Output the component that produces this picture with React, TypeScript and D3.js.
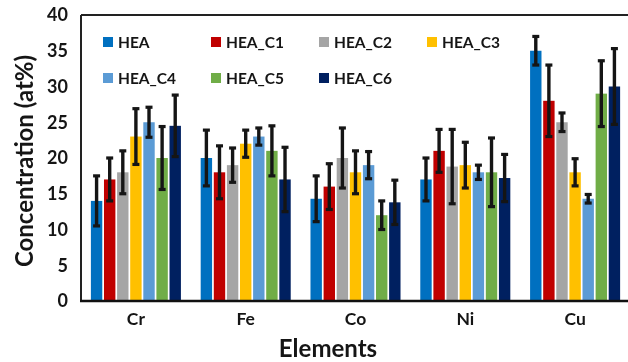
import { useEffect, useRef } from 'react';
import * as d3 from 'd3';

const elements = ['Cr', 'Fe', 'Co', 'Ni', 'Cu'];
const seriesNames = ['HEA', 'HEA_C1', 'HEA_C2', 'HEA_C3', 'HEA_C4', 'HEA_C5', 'HEA_C6'];
const colours = ['#0070C0', '#C00000', '#A5A5A5', '#FFC000', '#5B9BD5', '#70AD47', '#002060'];

// values per series, in element order Cr, Fe, Co, Ni, Cu
const HEA = [14, 20, 14.3, 17, 35];
const HEA_C1 = [17, 18, 16, 21, 28];
const HEA_C2 = [18, 19, 20, 18.8, 25];
const HEA_C3 = [23, 22, 18, 19, 18];
const HEA_C4 = [25, 23, 19, 18, 14.3];
const HEA_C5 = [20, 21, 12, 18, 29];
const HEA_C6 = [24.5, 17, 13.8, 17.2, 30];

const HEA_err = [3.5, 3.9, 3.2, 3, 2];
const HEA_C1_err = [3, 3.7, 3.2, 3, 5];
const HEA_C2_err = [3, 2.4, 4.2, 5.2, 1.3];
const HEA_C3_err = [3.9, 1.9, 3, 3.2, 1.9];
const HEA_C4_err = [2.1, 1.2, 1.9, 1, 0.6];
const HEA_C5_err = [4.4, 3.5, 2, 4.8, 4.6];
const HEA_C6_err = [4.3, 4.5, 3.1, 3.3, 5.3];

const yTicks = [0, 5, 10, 15, 20, 25, 30, 35, 40];

const values = [HEA, HEA_C1, HEA_C2, HEA_C3, HEA_C4, HEA_C5, HEA_C6];
const errors = [HEA_err, HEA_C1_err, HEA_C2_err, HEA_C3_err, HEA_C4_err, HEA_C5_err, HEA_C6_err];

const FONT = 'Lato, "Open Sans", sans-serif';
const INK = '#151515';

const Chart = ({ width = 628, height = 362 }) => {
  const svgRef = useRef<SVGSVGElement>(null);

  useEffect(() => {
    if (!svgRef.current) return;
    const svg = d3.select(svgRef.current);
    svg.selectAll('*').remove();

    const left = 81, right = 630, top = 15, bottom = 301;

    const x = d3.scaleBand().domain(elements).range([left, right]).paddingInner(0.18).paddingOuter(0.09);
    const xs = d3.scaleBand().domain(seriesNames).range([0, x.bandwidth()]).paddingInner(0.13);
    const y = d3.scaleLinear().domain([0, 40]).range([bottom, top]);

    const rows = elements.flatMap((el, i) =>
      seriesNames.map((s, j) => ({ el, s, j, v: values[j][i], e: errors[j][i] }))
    );

    const g = svg.append('g');

    g.selectAll('rect.bar')
      .data(rows)
      .enter()
      .append('rect')
      .attr('class', 'bar')
      .attr('x', d => x(d.el)! + xs(d.s)!)
      .attr('y', d => y(d.v))
      .attr('width', xs.bandwidth())
      .attr('height', d => y(0) - y(d.v))
      .attr('fill', d => colours[d.j]);

    // error bars
    const eb = g.selectAll('g.err').data(rows).enter().append('g').attr('class', 'err');
    const cx = (d: any) => x(d.el)! + xs(d.s)! + xs.bandwidth() / 2;
    eb.append('line')
      .attr('x1', cx).attr('x2', cx)
      .attr('y1', d => y(d.v + d.e)).attr('y2', d => y(d.v - d.e))
      .attr('stroke', INK).attr('stroke-width', 3.4);
    [1, -1].forEach(sgn => {
      eb.append('line')
        .attr('x1', d => cx(d) - 3.5).attr('x2', d => cx(d) + 3.5)
        .attr('y1', d => y(d.v + sgn * d.e)).attr('y2', d => y(d.v + sgn * d.e))
        .attr('stroke', INK).attr('stroke-width', 3.2);
    });

    // frame
    g.append('line').attr('x1', left).attr('x2', right).attr('y1', top).attr('y2', top)
      .attr('stroke', '#222').attr('stroke-width', 2);
    g.append('line').attr('x1', left).attr('x2', left).attr('y1', top).attr('y2', bottom)
      .attr('stroke', '#222').attr('stroke-width', 2);
    g.append('line').attr('x1', left - 1).attr('x2', right).attr('y1', bottom).attr('y2', bottom)
      .attr('stroke', '#111').attr('stroke-width', 2.5);

    // y tick labels
    g.selectAll('text.yt')
      .data(yTicks)
      .enter()
      .append('text')
      .attr('class', 'yt')
      .attr('x', left - 13)
      .attr('y', d => y(d))
      .attr('dy', '0.36em')
      .attr('text-anchor', 'end')
      .attr('font-family', FONT)
      .attr('font-weight', 'bold')
      .attr('font-size', 18)
      .attr('fill', INK)
      .text(d => d);

    // x tick labels
    g.selectAll('text.xt')
      .data(elements)
      .enter()
      .append('text')
      .attr('class', 'xt')
      .attr('x', d => x(d)! + x.bandwidth() / 2)
      .attr('y', 325)
      .attr('text-anchor', 'middle')
      .attr('font-family', FONT)
      .attr('font-weight', 'bold')
      .attr('font-size', 17.5)
      .attr('fill', INK)
      .text(d => d);

    svg.append('text')
      .attr('x', 328)
      .attr('y', 357)
      .attr('text-anchor', 'middle')
      .attr('font-family', FONT)
      .attr('font-weight', 'bold')
      .attr('font-size', 24)
      .attr('fill', INK)
      .text('Elements');

    svg.append('text')
      .attr('transform', `translate(33,161) rotate(-90)`)
      .attr('text-anchor', 'middle')
      .attr('font-family', FONT)
      .attr('font-weight', 'bold')
      .attr('font-size', 24)
      .attr('fill', INK)
      .text('Concentration (at%)');

    // legend
    const legend = svg.append('g');
    const items = legend.selectAll('g.li')
      .data(seriesNames)
      .enter()
      .append('g')
      .attr('class', 'li')
      .attr('transform', (d, i) => `translate(${103 + (i % 4) * 108},${i < 4 ? 42 : 78})`);
    items.append('rect')
      .attr('x', 0).attr('y', -5).attr('width', 10).attr('height', 10)
      .attr('fill', (d, i) => colours[i]);
    items.append('text')
      .attr('x', 15).attr('y', 0).attr('dy', '0.36em')
      .attr('font-family', FONT)
      .attr('font-weight', 'bold')
      .attr('font-size', 15.5)
      .attr('fill', INK)
      .text(d => d);
  }, [width, height]);

  return <svg ref={svgRef} width={width} height={height} style={{ display: 'block' }} />;
};

export default function App() {
  return (
    <div style={{ position: 'fixed', top: 0, left: 0 }}>
      <Chart />
    </div>
  );
}
